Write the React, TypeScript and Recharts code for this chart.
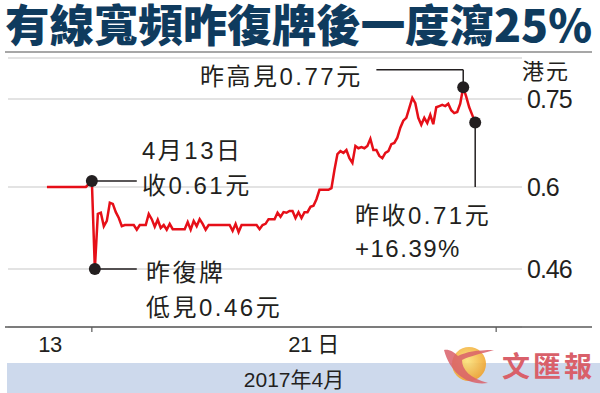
import {
  LineChart, Line, XAxis, YAxis, CartesianGrid, ReferenceDot, ReferenceLine,
} from "recharts";

// price path, one reading per step (13th close first, then resumption day)
const prices = [
  0.60, 0.60, 0.60, 0.60, 0.60, 0.60, 0.60, 0.60, 0.60, 0.60, 0.60, 0.60, 0.60, 0.60,
  0.605, 0.61, 0.46, 0.554, 0.556, 0.533, 0.542, 0.573, 0.571, 0.557, 0.547, 0.533,
  0.535, 0.535, 0.535, 0.535, 0.527, 0.535, 0.535, 0.535, 0.554, 0.545, 0.532, 0.544,
  0.530, 0.535, 0.527, 0.537, 0.528, 0.528, 0.528, 0.528, 0.528, 0.540, 0.527, 0.542,
  0.533, 0.545, 0.537, 0.527, 0.535, 0.535, 0.535, 0.535, 0.535, 0.535, 0.535, 0.535,
  0.525, 0.537, 0.523, 0.535, 0.535, 0.535, 0.535, 0.535, 0.535, 0.528, 0.535, 0.537,
  0.545, 0.545, 0.545, 0.556, 0.549, 0.557, 0.556, 0.559, 0.559, 0.547, 0.557, 0.547,
  0.557, 0.557, 0.566, 0.568, 0.579, 0.595, 0.595, 0.595, 0.595, 0.598, 0.629, 0.656,
  0.661, 0.658, 0.663, 0.649, 0.641, 0.670, 0.666, 0.668, 0.666, 0.670, 0.682, 0.663,
  0.663, 0.653, 0.649, 0.658, 0.661, 0.673, 0.675, 0.684, 0.701, 0.713, 0.718, 0.735,
  0.752, 0.743, 0.718, 0.706, 0.718, 0.709, 0.723, 0.707, 0.736, 0.738, 0.740, 0.738,
  0.742, 0.731, 0.726, 0.728, 0.742, 0.77, 0.754, 0.736, 0.723, 0.71,
];
const priceTicks = [0.46, 0.6, 0.75];
const dayBounds = [15, 150];
const dayLabels = ["13", "21 日"];
const dayLabelAt = [1, 89];

const rows = prices.map((price, t) => ({ t, price }));
const lowT = prices.indexOf(Math.min(...prices));
const highT = prices.indexOf(Math.max(...prices));
const closeT = prices.length - 1;
const prevCloseT = lowT - 1;

const INK = "#231f20";
const NUM_FONT = "'Liberation Sans Narrow', 'Liberation Sans', 'Noto Sans CJK TC', sans-serif";
const CJK_FONT = "'Noto Sans CJK TC', sans-serif";

function DayTick({ x, y, payload }: any) {
  const k = dayLabelAt.indexOf(payload.value);
  if (k < 0) {
    return <line x1={x} x2={x} y1={y} y2={y + 5} stroke="#5a5a5a" strokeWidth={1.2} />;
  }
  return (
    <text x={x} y={y + 25} textAnchor="middle" fontSize={22} fill={INK} fontFamily={NUM_FONT} letterSpacing={-0.5}>
      {dayLabels[k]}
    </text>
  );
}

function PriceTick({ x, y, payload }: any) {
  return (
    <text x={x - 65} y={y + 9} fontSize={25} fill={INK} fontFamily={NUM_FONT} letterSpacing={-1}>
      {payload.value}
    </text>
  );
}

function GridLine(p: any) {
  return (
    <line key={p.key} x1={p.x1 + 3} x2={p.x2 - 70} y1={p.y1} y2={p.y2} stroke="#dadada" strokeWidth={1.5} />
  );
}

const note = { fontSize: 24, fill: INK, fontFamily: NUM_FONT, letterSpacing: 2.5 };

export default function App() {
  return (
    <div style={{ position: "absolute", left: 0, top: 0, width: 600, height: 393, background: "#fff", overflow: "hidden" }}>
      <LineChart width={600} height={393} data={rows} margin={{ top: 58, right: 8, left: 5, bottom: 36 }}>
        <CartesianGrid vertical={false} horizontal={GridLine} />
        <XAxis
          dataKey="t"
          type="number"
          domain={[-14, 182]}
          ticks={[...dayBounds, ...dayLabelAt]}
          interval={0}
          height={30}
          tickSize={0}
          tickMargin={0}
          tickLine={false}
          axisLine={{ stroke: "#5a5a5a", strokeWidth: 1.5 }}
          tick={<DayTick />}
        />
        <YAxis
          orientation="right"
          mirror
          width={60}
          domain={[0.361, 0.82]}
          ticks={priceTicks}
          tickSize={0}
          tickLine={false}
          axisLine={false}
          tickMargin={0}
          tick={<PriceTick />}
        />
        <Line dataKey="price" stroke="#e60f18" strokeWidth={2.5} dot={false} type="linear" isAnimationActive={false} />
        <ReferenceLine segment={[{ x: prevCloseT, y: prices[prevCloseT] }, { x: 30, y: prices[prevCloseT] }]} stroke={INK} strokeWidth={1.5} />
        <ReferenceLine segment={[{ x: lowT, y: prices[lowT] }, { x: 30, y: prices[lowT] }]} stroke={INK} strokeWidth={1.5} />
        <ReferenceLine segment={[{ x: highT, y: prices[highT] }, { x: highT, y: 0.8 }]} stroke={INK} strokeWidth={1.5} />
        <ReferenceLine segment={[{ x: highT, y: 0.8 }, { x: 110, y: 0.8 }]} stroke={INK} strokeWidth={1.5} />
        <ReferenceLine segment={[{ x: closeT, y: prices[closeT] }, { x: closeT, y: 0.6 }]} stroke={INK} strokeWidth={1.5} />
        <ReferenceDot x={prevCloseT} y={prices[prevCloseT]} r={6} fill={INK} stroke="none" />
        <ReferenceDot x={lowT} y={prices[lowT]} r={6} fill={INK} stroke="none" />
        <ReferenceDot x={highT} y={prices[highT]} r={6} fill={INK} stroke="none" />
        <ReferenceDot x={closeT} y={prices[closeT]} r={6} fill={INK} stroke="none" />
      </LineChart>

      <svg width={600} height={393} style={{ position: "absolute", left: 0, top: 0, pointerEvents: "none" }}>
        <defs>
          <radialGradient id="sun" cx="0.45" cy="0.4" r="0.6">
            <stop offset="0" stopColor="#fbe27a" />
            <stop offset="1" stopColor="#f0a22c" />
          </radialGradient>
        </defs>
        <text x={5} y={42} fontSize={44} fontWeight={900} fill="#0f3b5e" fontFamily={CJK_FONT}
          textLength={587} lengthAdjust="spacingAndGlyphs">
          有線寬頻昨復牌後一度瀉25%
        </text>
        <line x1={5} x2={592} y1={52} y2={52} stroke="#8a8a8a" strokeWidth={1.5} />

        <text x={200} y={85} {...note}>昨高見0.77元</text>
        <text x={522} y={79} fontSize={22} fill={INK} fontFamily={CJK_FONT} letterSpacing={2}>港元</text>
        <text x={142} y={159} {...note}>4月13日</text>
        <text x={142} y={194} {...note}>收0.61元</text>
        <text x={146} y={281} {...note}>昨復牌</text>
        <text x={146} y={316} {...note}>低見0.46元</text>
        <text x={355} y={224} {...note}>昨收0.71元</text>
        <text x={355} y={257} {...note} letterSpacing={1.5}>+16.39%</text>

        <rect x={7} y={363} width={593} height={30} fill="#cdd9ec" />
        <text x={294} y={387} textAnchor="middle" fontSize={21} fill={INK} fontFamily={NUM_FONT}>2017年4月</text>

        <circle cx={469} cy={364} r={17} fill="url(#sun)" opacity={0.9} />
        <path d="M444 350 C450 372 466 386 488 383 C470 378 462 370 462 360 C470 356 480 354 494 350 C476 350 466 352 458 356 C454 352 449 349 444 350 Z"
          fill="#d9606a" opacity={0.85} />
        <text x={502} y={377} fontSize={28} fontWeight={700} fill="#d9606a" fontFamily={CJK_FONT} letterSpacing={3}>文匯報</text>
      </svg>
    </div>
  );
}
